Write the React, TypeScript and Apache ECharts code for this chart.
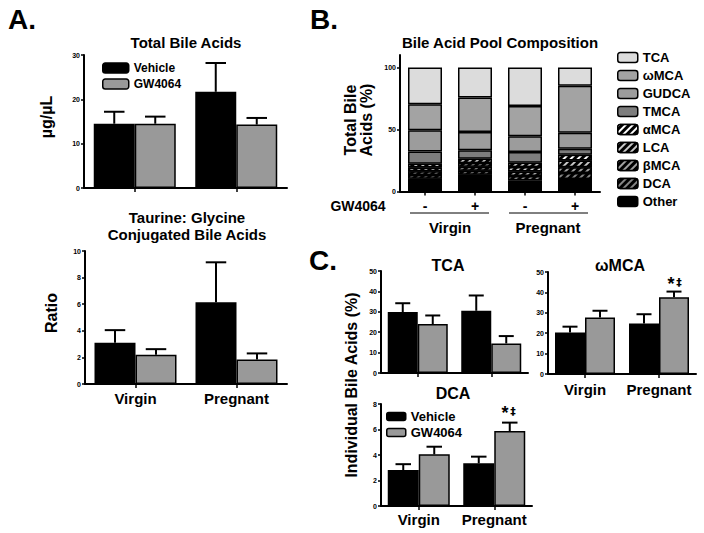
import React, { useEffect, useRef } from "react";
import * as echarts from "echarts";

// ---------- data ----------
const groups = ["Virgin", "Pregnant"];

// Panel A: Total bile acids (µg/µL)
const totalVehicle = [14.5, 21.7];
const totalVehicleErr = [17.2, 28.2];
const totalGW = [14.5, 14.3];
const totalGWErr = [16.1, 15.8];

// Panel A: Taurine:Glycine ratio
const ratioVehicle = [3.1, 6.15];
const ratioVehicleErr = [4.05, 9.15];
const ratioGW = [2.2, 1.85];
const ratioGWErr = [2.62, 2.3];

// Panel B: pool composition (%)
const poolCats = ["Virgin -", "Virgin +", "Pregnant -", "Pregnant +"];
const poolSigns = ["-", "+", "-", "+"];
const poolNames = ["TCA", "ωMCA", "GUDCA", "TMCA", "αMCA", "LCA", "βMCA", "DCA", "Other"];
const poolTCA = [29.7, 24.3, 31, 14.8];
const poolWMCA = [21, 27.7, 24.5, 37.8];
const poolGUDCA = [17, 14.8, 12.7, 12.9];
const poolTMCA = [10, 6.8, 8.6, 4.9];
const poolAMCA = [3, 3.5, 3.5, 4.6];
const poolLCA = [3, 3, 3.5, 5.4];
const poolBMCA = [3, 3.2, 3.8, 4.6];
const poolDCA = [3, 3.2, 3.5, 5];
const poolOther = [10.3, 13.5, 8.9, 10];

// Panel C: individual bile acids (%)
const tcaVehicle = [29.9, 30.5];
const tcaVehicleErr = [34.2, 38];
const tcaGW = [24, 14.5];
const tcaGWErr = [28.2, 18.1];

const wmcaVehicle = [20.4, 24.8];
const wmcaVehicleErr = [23.2, 29.3];
const wmcaGW = [27.7, 37.6];
const wmcaGWErr = [31, 40.4];

const dcaVehicle = [2.82, 3.35];
const dcaVehicleErr = [3.28, 3.87];
const dcaGW = [4.05, 5.88];
const dcaGWErr = [4.65, 6.54];

// ---------- helpers ----------
const FONT = "'Liberation Sans', Arial, sans-serif";
const BLACK = "#000";
const GREY = "#999999";

function yAxis(gridIndex: number, max: number, interval: number, extra: any = {}) {
  return {
    type: "value",
    gridIndex,
    min: 0,
    max,
    interval,
    axisLine: { show: true, lineStyle: { color: BLACK, width: 2 } },
    axisTick: { show: true, length: 3, lineStyle: { color: BLACK, width: 1.5 } },
    axisLabel: { fontSize: 7, fontWeight: "bold", color: BLACK, margin: 4, fontFamily: FONT },
    splitLine: { show: false },
    ...extra,
  };
}

function xAxis(gridIndex: number, data: string[], label: any) {
  return {
    type: "category",
    gridIndex,
    data,
    axisLine: { show: true, lineStyle: { color: BLACK, width: 2 } },
    axisTick: { show: true, alignWithLabel: true, length: 4, lineStyle: { color: BLACK, width: 1.5 } },
    axisLabel: {
      show: !!label,
      interval: 0,
      hideOverlap: false,
      fontSize: 15,
      fontWeight: "bold",
      color: BLACK,
      margin: 7,
      fontFamily: FONT,
      ...(label || {}),
    },
    splitLine: { show: false },
  };
}

function bar(name: string, data: number[], idx: number, color: string, bw: number) {
  return {
    type: "bar",
    name,
    data,
    xAxisIndex: idx,
    yAxisIndex: idx,
    barWidth: bw,
    barGap: "0%",
    itemStyle: { color, borderColor: BLACK, borderWidth: 1.5 },
    z: 2,
  };
}

function errBars(vals: number[], errs: number[], idx: number, side: number, bw: number) {
  return {
    type: "custom",
    name: "err",
    xAxisIndex: idx,
    yAxisIndex: idx,
    clip: false,
    z: 5,
    data: vals.map((v, i) => [i, v, errs[i]]),
    renderItem: (_p: any, api: any) => {
      const i = api.value(0);
      const b = api.coord([i, api.value(1)]);
      const t = api.coord([i, api.value(2)]);
      const x = b[0] + (side * bw) / 2;
      const cap = bw / 4;
      return {
        type: "group",
        children: [
          { type: "line", shape: { x1: x, y1: b[1], x2: x, y2: t[1] }, style: { stroke: BLACK, lineWidth: 2 } },
          { type: "line", shape: { x1: x - cap, y1: t[1], x2: x + cap, y2: t[1] }, style: { stroke: BLACK, lineWidth: 2 } },
        ],
      };
    },
  };
}

function pair(idx: number, v: number[], ve: number[], g: number[], ge: number[], bw: number) {
  return [
    bar("Vehicle", v, idx, BLACK, bw),
    bar("GW4064", g, idx, GREY, bw),
    errBars(v, ve, idx, -1, bw),
    errBars(g, ge, idx, 1, bw),
  ];
}

function txt(text: string, x: number, y: number, size: number, extra: any = {}, family: string = FONT) {
  return {
    type: "text",
    x,
    y,
    style: {
      text,
      fill: BLACK,
      font: `bold ${size}px ${family}`,
      textAlign: "center",
      textVerticalAlign: "middle",
    },
    ...extra,
  };
}

function hatch(color: string) {
  return {
    symbol: "rect",
    symbolSize: 1,
    rotation: -Math.PI / 4,
    dashArrayX: [1, 0],
    dashArrayY: [2, 3],
    color,
  };
}

export default function App() {
  const ref = useRef<HTMLDivElement>(null);

  useEffect(() => {
    if (!ref.current) return;
    const chart = echarts.init(ref.current, undefined, { renderer: "svg" });

    const poolData = [poolTCA, poolWMCA, poolGUDCA, poolTMCA, poolAMCA, poolLCA, poolBMCA, poolDCA, poolOther];
    const poolColors = ["#dcdcdc", "#a3a3a3", "#9c9c9c", "#7d7d7d", "#000", "#000", "#000", "#000", "#000"];
    const poolDecals: any[] = [null, null, null, null, hatch("#ffffff"), hatch("#c8c8c8"), hatch("#a0a0a0"), hatch("#858585"), null];

    const poolSeries = poolNames
      .map((name, k) => ({
        type: "bar",
        name,
        stack: "pool",
        data: poolData[k],
        xAxisIndex: 2,
        yAxisIndex: 2,
        barWidth: 34,
        itemStyle: {
          color: poolColors[k],
          borderColor: BLACK,
          borderWidth: 1.5,
          ...(poolDecals[k] ? { decal: poolDecals[k] } : {}),
        },
      }))
      .reverse();

    const legendText = (size: number) => ({
      fontSize: size,
      fontWeight: "bold",
      color: BLACK,
      lineHeight: size,
      fontFamily: FONT,
    });

    const option: any = {
      animation: false,
      backgroundColor: "#fff",
      textStyle: { fontFamily: FONT },
      grid: [
        { left: 84, top: 55, width: 203, height: 133 },
        { left: 85, top: 251, width: 202, height: 133 },
        { left: 400, top: 55, width: 200, height: 136.5 },
        { left: 381, top: 271, width: 147, height: 102 },
        { left: 548, top: 272, width: 148, height: 102 },
        { left: 381, top: 404, width: 151, height: 102 },
      ],
      xAxis: [
        xAxis(0, groups, null),
        xAxis(1, groups, { fontSize: 15, margin: 7 }),
        xAxis(2, poolCats, { fontSize: 14, margin: 7, formatter: (_v: string, i: number) => poolSigns[i] }),
        xAxis(3, groups, null),
        xAxis(4, groups, { fontSize: 15, margin: 8 }),
        xAxis(5, groups, { fontSize: 15, margin: 6 }),
      ],
      yAxis: [
        yAxis(0, 30, 10),
        yAxis(1, 10, 2),
        yAxis(2, 110, 50, {
          axisTick: { show: true, length: 3, lineStyle: { color: BLACK, width: 1.5 }, customValues: [0, 50, 100] },
          axisLabel: { fontSize: 7, fontWeight: "bold", color: BLACK, margin: 4, fontFamily: FONT, customValues: [0, 50, 100] },
        }),
        yAxis(3, 50, 10),
        yAxis(4, 50, 10),
        yAxis(5, 8, 2),
      ],
      legend: [
        {
          data: ["Vehicle", "GW4064"],
          orient: "vertical",
          left: 102,
          top: 62,
          padding: 0,
          itemWidth: 26,
          itemHeight: 10,
          itemGap: 4,
          selectedMode: false,
          textStyle: legendText(12),
          itemStyle: { borderColor: BLACK, borderWidth: 1.5 },
        },
        {
          data: ["Vehicle", "GW4064"],
          orient: "vertical",
          left: 386,
          top: 410,
          padding: 0,
          itemWidth: 19,
          itemHeight: 8,
          itemGap: 3,
          selectedMode: false,
          textStyle: legendText(13),
          itemStyle: { borderColor: BLACK, borderWidth: 1.5 },
        },
        {
          data: poolNames,
          orient: "vertical",
          left: 617,
          top: 51,
          padding: 0,
          itemWidth: 20,
          itemHeight: 10,
          itemGap: 5,
          selectedMode: false,
          textStyle: legendText(13),
          itemStyle: { borderColor: BLACK, borderWidth: 1.5 },
        },
      ],
      series: [
        ...pair(0, totalVehicle, totalVehicleErr, totalGW, totalGWErr, 41),
        ...pair(1, ratioVehicle, ratioVehicleErr, ratioGW, ratioGWErr, 41),
        ...poolSeries,
        ...pair(3, tcaVehicle, tcaVehicleErr, tcaGW, tcaGWErr, 30),
        ...pair(4, wmcaVehicle, wmcaVehicleErr, wmcaGW, wmcaGWErr, 30),
        ...pair(5, dcaVehicle, dcaVehicleErr, dcaGW, dcaGWErr, 31),
      ],
      graphic: [
        txt("A.", 22, 19, 28),
        txt("B.", 324, 19, 28),
        txt("C.", 323, 260, 28),
        txt("Total Bile Acids", 186, 42, 15),
        txt("Taurine: Glycine", 187, 217, 15),
        txt("Conjugated Bile Acids", 187, 234, 15),
        txt("Bile Acid Pool Composition", 500, 42, 15),
        txt("TCA", 448, 265, 16),
        txt("ωMCA", 620, 265, 16),
        txt("DCA", 453, 393, 16),
        txt("µg/µL", 46, 117, 16, { rotation: Math.PI / 2 }),
        txt("Ratio", 51, 313, 16, { rotation: Math.PI / 2 }),
        txt("Total Bile", 350, 120, 16, { rotation: Math.PI / 2 }),
        txt("Acids (%)", 366, 120, 16, { rotation: Math.PI / 2 }),
        txt("Individual Bile Acids (%)", 351, 385, 16, { rotation: Math.PI / 2 }),
        txt("GW4064", 358, 206, 14),
        txt("Virgin", 450, 227, 15),
        txt("Pregnant", 548, 227, 15),
        { type: "line", shape: { x1: 410, y1: 213, x2: 489, y2: 213 }, style: { stroke: BLACK, lineWidth: 1 } },
        { type: "line", shape: { x1: 509, y1: 213, x2: 588, y2: 213 }, style: { stroke: BLACK, lineWidth: 1 } },
        txt("*", 671, 284, 18),
        txt("‡", 679, 282, 11, {}, "'DejaVu Sans', sans-serif"),
        txt("*", 505, 413, 18),
        txt("‡", 513, 411, 11, {}, "'DejaVu Sans', sans-serif"),
      ],
    };

    chart.setOption(option);
    return () => chart.dispose();
  }, []);

  return (
    <div
      ref={ref}
      style={{ position: "fixed", left: 0, top: 0, width: 704, height: 533, background: "#fff" }}
    />
  );
}
